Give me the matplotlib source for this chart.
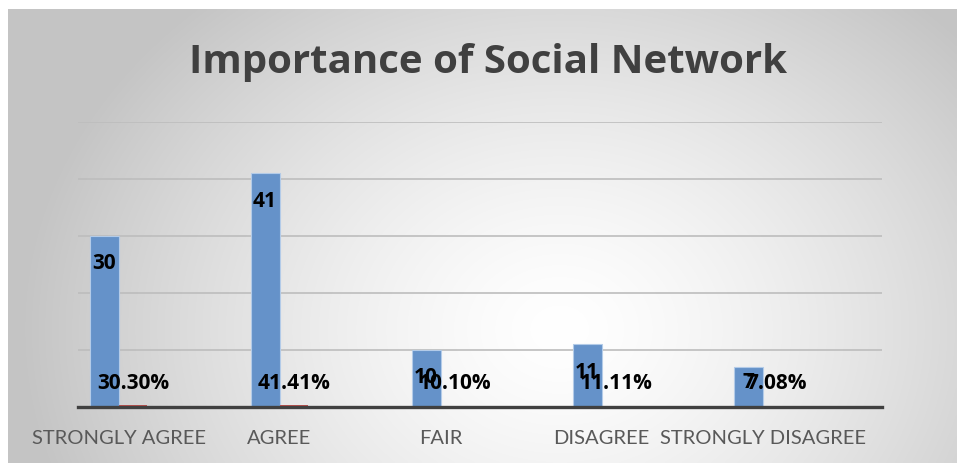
import numpy as np
import matplotlib.pyplot as plt

categories = ['STRONGLY AGREE', 'AGREE', 'FAIR', 'DISAGREE', 'STRONGLY DISAGREE']
counts = np.array([30, 41, 10, 11, 7])
percents = np.array([30.30, 41.41, 10.10, 11.11, 7.08])

W, H = 957, 463
fig = plt.figure(figsize=(W / 100, H / 100), dpi=100)

# soft radial background of the chart area
bg = fig.add_axes([0, 0, 1, 1])
bg.set_xlim(0, W)
bg.set_ylim(H, 0)
bg.axis('off')
gx, gy = np.meshgrid(np.linspace(8, W, 400), np.linspace(9, H, 200))
r = np.sqrt(((gx - 560) / 540) ** 2 + ((gy - 330) / 440) ** 2)
t = np.clip(r, 0, 1) ** 1.4
shade = 1.0 - 0.23 * t
bg.imshow(np.dstack([shade] * 3), extent=(8, W, H, 9), aspect='auto', interpolation='bilinear')

ax = fig.add_axes([78 / W, 56 / H, 804 / W, 285 / H])
ax.patch.set_alpha(0)

x = np.arange(len(categories))
w = 0.18
ax.bar(x - w / 2, counts, w, color='#6592c9', edgecolor='#b3cbe8', linewidth=0.8, zorder=3)
ax.bar(x + w / 2, percents / 100, w, color='#c0504d', zorder=3)

ax.set_xlim(-0.2516, 4.742)
ax.set_ylim(0, 50)
ax.set_yticks(range(0, 51, 10))
ax.yaxis.grid(True, color='#bdbdbd', linewidth=1.2)
ax.set_axisbelow(True)
for s in ['top', 'left', 'right']:
    ax.spines[s].set_visible(False)
ax.spines['bottom'].set_color('#404040')
ax.spines['bottom'].set_linewidth(2.4)
ax.spines['bottom'].set_zorder(4)
ax.tick_params(left=False, labelleft=False, bottom=False)
ax.set_xticks(x)
ax.set_xticklabels(categories, fontsize=14.5, color='#595959', family='Lato')
ax.tick_params(axis='x', pad=13)

lbl = dict(ha='center', va='center', fontsize=15, fontweight='bold',
           family='Open Sans', color='black', zorder=5)
for xi, c in zip(x, counts):
    ax.text(xi - w / 2, max(c - 4.9, 4.3), str(c), **lbl)
for xi, p in zip(x, percents):
    ax.text(xi + w / 2, 4.2, f'{p:.2f}%', **lbl)

fig.text(488.5 / W, 1 - 62 / H, 'Importance of Social Network', ha='center', va='center',
         fontsize=29, fontweight='bold', family='Open Sans', color='#404040')

fig.savefig('out.png', dpi=100)
